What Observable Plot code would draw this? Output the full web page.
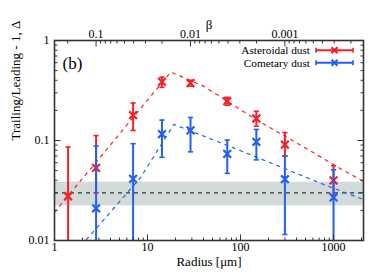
<!DOCTYPE html>
<html><head><meta charset="utf-8">
<script src="https://cdn.jsdelivr.net/npm/d3@7"></script>
<script src="https://cdn.jsdelivr.net/npm/@observablehq/plot@0.6"></script>
<style>
body{margin:0;background:#fff;}
#wrap{position:relative;width:376px;height:279px;font-family:"Liberation Serif",serif;}
#legend{position:absolute;left:0;top:0;}
</style></head><body><div id="wrap"></div>
<script>
// ---- data ----
const xDomain = [1, 2100];
const yDomain = [0.01, 1];
const astR   = [1.4, 2.8, 7, 14.3, 29, 72, 148, 300, 1000];
const astVal = [0.0277, 0.0533, 0.179, 0.386, 0.375, 0.247, 0.166, 0.091, 0.040];
const astHi  = [0.086, 0.112, 0.237, 0.43, 0.40, 0.27, 0.196, 0.12, 0.056];
const astLo  = [0.005, 0.03, 0.126, 0.34, 0.35, 0.225, 0.139, 0.07, 0.028];
const comR   = [2.8, 7, 14.3, 29, 72, 148, 300, 1000];
const comVal = [0.021, 0.0413, 0.116, 0.126, 0.0735, 0.097, 0.041, 0.027];
const comHi  = [0.088, 0.093, 0.16, 0.17, 0.101, 0.129, 0.07, 0.051];
const comLo  = [0.005, 0.005, 0.068, 0.077, 0.047, 0.064, 0.0115, 0.005];
const astModelR = [1, 3.7, 10.8, 17.8, 40, 150, 450, 1200, 2100];
const astModelV = [0.0192, 0.083, 0.276, 0.484, 0.35, 0.16, 0.089, 0.052, 0.039];
const comModelR = [2.2, 8.4, 19.2, 85, 250, 800, 2100];
const comModelV = [0.0102, 0.0425, 0.145, 0.084, 0.056, 0.036, 0.0257];
const bandLo = 0.0222, bandHi = 0.0383, noiseLevel = 0.030;
const xMajor = [1, 10, 100, 1000];
const xTickLabels = ["1", "10", "100", "1000"];
const yMajor = [0.01, 0.1, 1];
const yTickLabels = ["0.01", "0.1", "1"];
const betaMajor = [0.1, 0.01, 0.001];
const betaLabels = ["0.1", "0.01", "0.001"];
const seriesNames = ["Asteroidal dust", "Cometary dust"];
const colors = ["#f5202a", "#2160f0"];

// ---- helpers ----
const rOfBeta = b => 0.2704 * Math.pow(b, -1.015);
const minorLog = (lo, hi) => { const out = []; for (let k = -5; k <= 4; k++) for (let d = 2; d <= 9; d++) { const v = d * Math.pow(10, k); if (v > lo && v < hi) out.push(v); } return out; };
const xMinor = minorLog(xDomain[0], xDomain[1]);
const yMinor = minorLog(yDomain[0], yDomain[1]);
const betaMinor = minorLog(1e-5, 1).map(rOfBeta).filter(r => r > xDomain[0] && r < xDomain[1]);
const betaMajorR = betaMajor.map(rOfBeta);
const betaLabelMap = new Map(betaMajorR.map((r, i) => [r, betaLabels[i]]));
const xLabelMap = new Map(xMajor.map((v, i) => [v, xTickLabels[i]]));
const yLabelMap = new Map(yMajor.map((v, i) => [v, yTickLabels[i]]));

const ast = astR.map((r, i) => ({r, v: astVal[i], hi: astHi[i], lo: astLo[i]}));
const com = comR.map((r, i) => ({r, v: comVal[i], hi: comHi[i], lo: comLo[i]}));
const astModel = astModelR.map((r, i) => ({r, v: astModelV[i]}));
const comModel = comModelR.map((r, i) => ({r, v: comModelV[i]}));

const capSym = {draw(c){ c.moveTo(-2.6, 0); c.lineTo(2.6, 0); }};
const tickSym = (dx, dy) => ({draw(c){ c.moveTo(0, 0); c.lineTo(dx, dy); }});
const frameColor = "#333";

function series(data, color) {
  return [
    Plot.ruleX(data, {x: "r", y1: "lo", y2: "hi", stroke: color, strokeWidth: 2, clip: true}),
    Plot.dot(data, {x: "r", y: "hi", symbol: capSym, stroke: color, strokeWidth: 1.6, fill: "none", clip: true}),
    Plot.dot(data, {x: "r", y: "lo", symbol: capSym, stroke: color, strokeWidth: 1.6, fill: "none", clip: true}),
    Plot.dot(data, {x: "r", y: "v", symbol: "times", r: 3.6, stroke: color, strokeWidth: 2.2, clip: true})
  ];
}
function ticks(vals, xf, yf, sym, w) {
  return Plot.dot(vals, {x: xf, y: yf, symbol: sym, stroke: frameColor, strokeWidth: w, fill: "none"});
}

const chart = Plot.plot({
  width: 376, height: 279,
  marginLeft: 54, marginRight: 13, marginTop: 40, marginBottom: 39,
  x: {type: "log", domain: xDomain},
  y: {type: "log", domain: yDomain},
  style: {fontFamily: "Liberation Serif", fontSize: "12px", color: "#000", background: "#fff", overflow: "visible"},
  marks: [
    Plot.rect([{lo: bandLo, hi: bandHi}], {x1: () => xDomain[0], x2: () => xDomain[1], y1: "lo", y2: "hi", fill: "#d2dbda"}),
    Plot.ruleY([noiseLevel], {stroke: "#333", strokeDasharray: "4,4", strokeWidth: 1.2}),
    Plot.line(astModel, {x: "r", y: "v", stroke: colors[0], strokeDasharray: "3,5", strokeWidth: 1.2, clip: true}),
    Plot.line(comModel, {x: "r", y: "v", stroke: colors[1], strokeDasharray: "3,5", strokeWidth: 1.2, clip: true}),
    ...series(ast, colors[0]),
    ...series(com, colors[1]),
    Plot.frame({stroke: frameColor, strokeWidth: 1.6}),
    // tick marks (inward)
    ticks(xMajor, d => d, () => yDomain[0], tickSym(0, -6), 1),
    ticks(xMinor, d => d, () => yDomain[0], tickSym(0, -3), 1),
    ticks(betaMajorR, d => d, () => yDomain[1], tickSym(0, 6), 1),
    ticks(betaMinor, d => d, () => yDomain[1], tickSym(0, 3), 1),
    ticks(yMajor, () => xDomain[0], d => d, tickSym(6, 0), 1),
    ticks(yMinor, () => xDomain[0], d => d, tickSym(3, 0), 1),
    ticks(yMajor, () => xDomain[1], d => d, tickSym(-6, 0), 1),
    ticks(yMinor, () => xDomain[1], d => d, tickSym(-3, 0), 1),
    // tick labels
    Plot.axisX({ticks: xMajor, tickFormat: d => xLabelMap.get(d), tickSize: 0, tickPadding: 2, label: null, fontSize: 12}),
    Plot.axisX({anchor: "top", ticks: betaMajorR, tickFormat: d => betaLabelMap.get(d), tickSize: 0, tickPadding: 3, label: null, fontSize: 12}),
    Plot.axisY({ticks: yMajor, tickFormat: d => yLabelMap.get(d), tickSize: 0, tickPadding: 5, label: null, fontSize: 12}),
    // axis titles
    Plot.text(["Radius [μm]"], {frameAnchor: "bottom", dy: 25, fontSize: 13}),
    Plot.text(["β"], {frameAnchor: "top", dy: -21, fontSize: 13}),
    Plot.text(["Trailing/Leading - 1, Δ"], {frameAnchor: "left", dx: -39, rotate: -90, fontSize: 13}),
    Plot.text(["(b)"], {frameAnchor: "top-left", dx: 8, dy: 16, fontSize: 17, textAnchor: "start"})
  ]
});
const wrap = document.getElementById("wrap");
wrap.appendChild(chart);

// legend overlay
const lg = d3.select(wrap).append("svg").attr("id", "legend").attr("width", 376).attr("height", 279);
seriesNames.forEach((name, i) => {
  const y = 50.2 + i * 12.6;
  lg.append("text").attr("x", 310).attr("y", y + 4).attr("text-anchor", "end")
    .attr("font-family", "Liberation Serif").attr("font-size", 11.3).attr("fill", "#000").text(name);
  const g = lg.append("g").attr("stroke", colors[i]).attr("fill", "none");
  g.append("line").attr("x1", 316).attr("x2", 353).attr("y1", y).attr("y2", y).attr("stroke-width", 2);
  g.append("line").attr("x1", 316).attr("x2", 316).attr("y1", y - 2.5).attr("y2", y + 2.5).attr("stroke-width", 1.6);
  g.append("line").attr("x1", 353).attr("x2", 353).attr("y1", y - 2.5).attr("y2", y + 2.5).attr("stroke-width", 1.6);
  g.append("path").attr("d", `M${334.5-3},${y-3}L${334.5+3},${y+3}M${334.5-3},${y+3}L${334.5+3},${y-3}`).attr("stroke-width", 2.2);
});
</script></body></html>
